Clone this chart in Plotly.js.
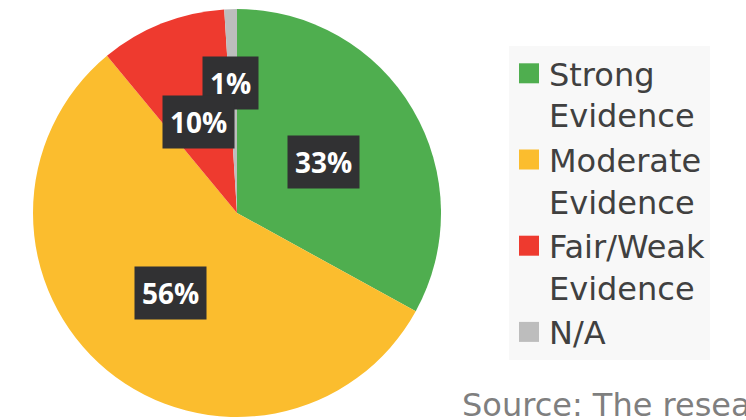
<!DOCTYPE html>
<html>
<head>
<meta charset="utf-8">
<script src="https://cdn.plot.ly/plotly-3.0.1.min.js"></script>
<style>html,body{margin:0;padding:0;background:#fff;}#chart{width:746px;height:420px;}</style>
</head>
<body>
<div id="chart"></div>
<script>
var categories = ['Strong Evidence', 'Moderate Evidence', 'Fair/Weak Evidence', 'N/A'];
var shares = [33, 56, 10, 1];
var sliceColors = ['#4fae4f', '#fbbd2e', '#ee3a2f', '#bdbdbd'];
var sourceNote = 'Source: The research team';

var W = 746, H = 420;
var pieLeft = 33, pieRight = 441, pieTop = 9, pieBottom = 417;
var cx = (pieLeft + pieRight) / 2, cy = (pieTop + pieBottom) / 2, R = (pieRight - pieLeft) / 2;

// label placement style (radius fraction, angle nudge in degrees)
var labelRadius = [0.49, 0.51, 0.485, 0.64];
var labelNudge = [0, 0, -1, -1];
var labelOrder = [0, 1, 3, 2];

var total = shares.reduce(function (a, b) { return a + b; }, 0);
var starts = [], acc = 0;
shares.forEach(function (v) { starts.push(acc); acc += v; });

var annotations = [];
labelOrder.forEach(function (i) {
  var mid = (starts[i] + shares[i] / 2) / total * 360 + labelNudge[i];
  var a = mid * Math.PI / 180;
  var px = cx + labelRadius[i] * R * Math.sin(a);
  var py = cy - labelRadius[i] * R * Math.cos(a);
  annotations.push({
    x: px / W, y: 1 - py / H, xref: 'paper', yref: 'paper',
    text: '<b>' + Math.round(shares[i] / total * 100) + '%</b>',
    showarrow: false, bgcolor: '#313133', borderpad: 7,
    font: {family: 'Open Sans', size: 28, color: '#ffffff'},
    xanchor: 'center', yanchor: 'middle'
  });
});

annotations.push({
  x: 460 / W, y: 1 - 426 / H, xref: 'paper', yref: 'paper',
  text: sourceNote, showarrow: false, xanchor: 'left', yanchor: 'bottom',
  font: {family: 'DejaVu Sans', size: 32, color: '#7f7f7f'}
});

var trace = {
  type: 'pie',
  labels: categories.map(function (c) { return c.replace(' ', '<br>'); }),
  values: shares,
  sort: false,
  direction: 'clockwise',
  rotation: 0,
  textinfo: 'none',
  hoverinfo: 'label+percent',
  marker: {colors: sliceColors, line: {width: 0}},
  domain: {x: [pieLeft / W, pieRight / W], y: [1 - pieBottom / H, 1 - pieTop / H]}
};

var layout = {
  width: W, height: H,
  margin: {l: 0, r: 0, t: 0, b: 0},
  paper_bgcolor: '#ffffff',
  showlegend: true,
  legend: {
    x: 509 / W, y: 1 - 46 / H, xanchor: 'left', yanchor: 'top',
    bgcolor: '#f8f8f8', valign: 'top', tracegroupgap: 0,
    font: {family: 'DejaVu Sans', size: 32, color: '#404040'}
  },
  annotations: annotations
};

Plotly.newPlot('chart', [trace], layout, {displayModeBar: false, staticPlot: true}).then(function () {
  document.querySelectorAll('.legend path.legendpie').forEach(function (p) {
    p.setAttribute('d', 'M10,10H-10V-10H10Z');
  });
});
</script>
</body>
</html>
